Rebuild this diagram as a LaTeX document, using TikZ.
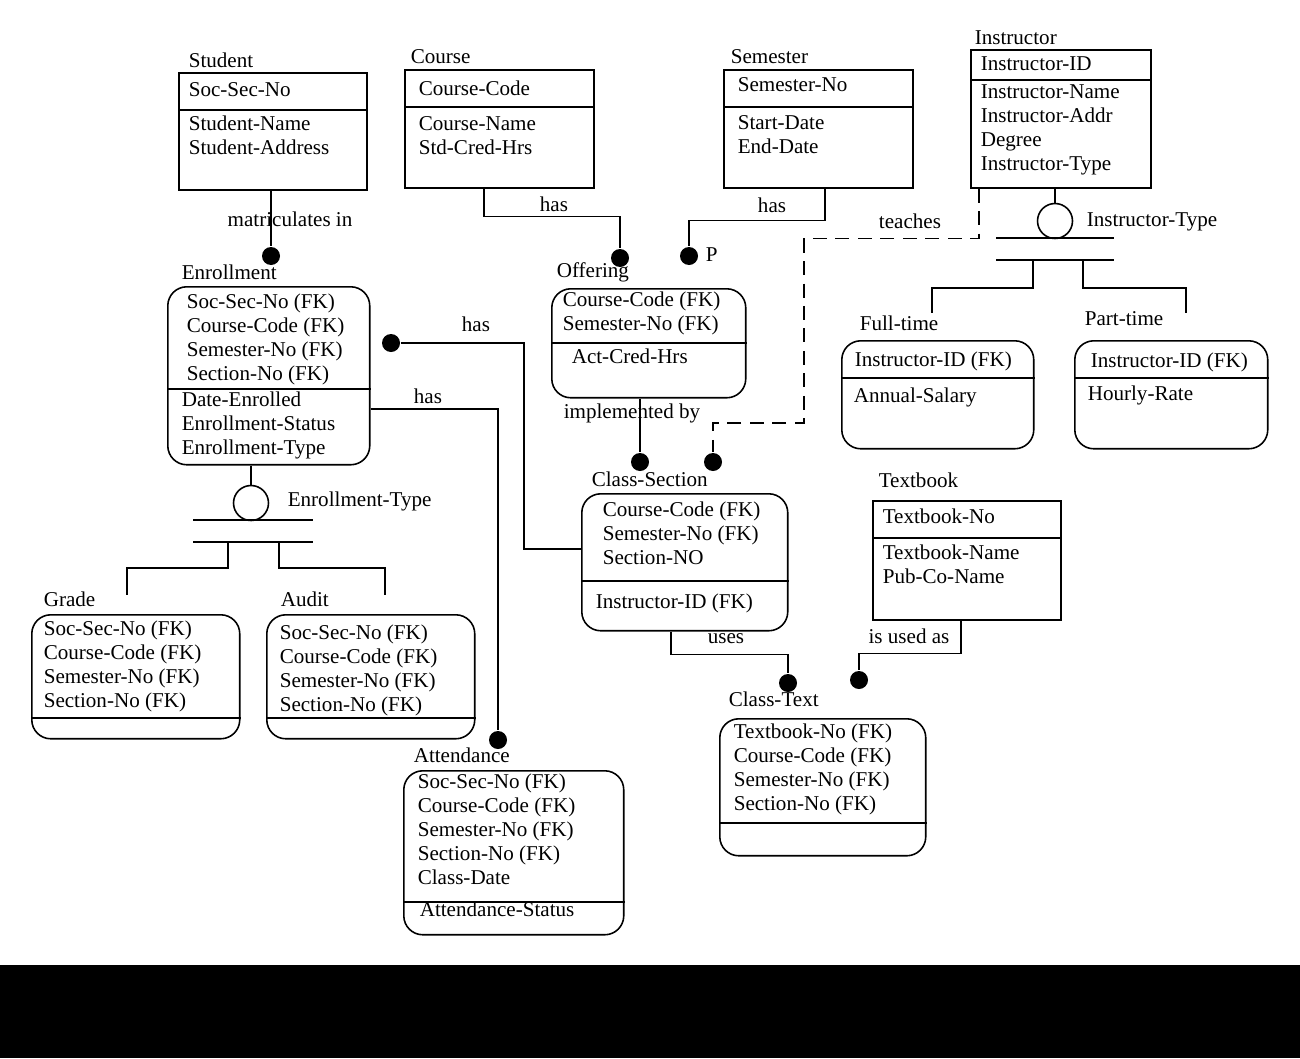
\documentclass[tikz,border=0pt]{standalone}
\usepackage{fontspec}
\setmainfont{Liberation Serif}
\usetikzlibrary{calc}

\begin{document}
\begin{tikzpicture}[
  x=0.02cm, y=-0.02cm,
  line width=0.9pt,
  ent/.style={draw, anchor=north west, inner sep=0pt},
  weak/.style={ent, rounded corners=0.38cm},
  attr/.style={anchor=north west, inner sep=0pt, align=left, font=\fontsize{12}{13.6}\selectfont},
  lbl/.style={anchor=base west, inner sep=0pt, font=\fontsize{12}{13.6}\selectfont},
  rel/.style={anchor=base, inner sep=0pt, font=\fontsize{12}{13.6}\selectfont},
  fkdot/.style={circle, fill, inner sep=0pt, minimum size=0.36cm},
  subc/.style={circle, draw, fill=white, inner sep=0pt, minimum size=0.7cm},
  dashline/.style={dash pattern=on 0.28cm off 0.17cm}
]
\useasboundingbox (0,0) rectangle (1300,1058);
\fill[black] (0,965) rectangle (1300,1058);

% entities
\node[ent, minimum width=3.76cm, minimum height=2.34cm] (stud) at (178,72) {};
\node[ent, minimum width=3.78cm, minimum height=2.36cm] (crs) at (404,69) {};
\node[ent, minimum width=3.78cm, minimum height=2.36cm] (sem) at (723,69) {};
\node[ent, minimum width=3.6cm, minimum height=2.76cm] (ins) at (970,49) {};
\node[ent, minimum width=3.76cm, minimum height=2.38cm] (txb) at (872,500) {};
\node[weak, minimum width=4.04cm, minimum height=3.56cm] (enr) at (167,286) {};
\node[weak, minimum width=3.88cm, minimum height=2.18cm] (off) at (551,288) {};
\node[weak, minimum width=3.84cm, minimum height=2.16cm] (ful) at (841,340) {};
\node[weak, minimum width=3.86cm, minimum height=2.16cm] (prt) at (1074,340) {};
\node[weak, minimum width=4.12cm, minimum height=2.74cm] (cls) at (581,493) {};
\node[weak, minimum width=4.16cm, minimum height=2.48cm] (grd) at (31,614) {};
\node[weak, minimum width=4.16cm, minimum height=2.48cm] (aud) at (266,614) {};
\node[weak, minimum width=4.4cm, minimum height=3.28cm] (att) at (403,770) {};
\node[weak, minimum width=4.12cm, minimum height=2.74cm] (ctx) at (719,718) {};

\foreach \n/\d in {stud/38, crs/38, sem/38, ins/31, txb/38, enr/103, off/55,
  ful/38, prt/38, cls/88, grd/104, aud/104, att/132, ctx/105}
  \draw ($(\n.north west)+(0,\d)$) -- ($(\n.north east)+(0,\d)$);

% entity names
\node[lbl] (stud-l) at (188,67) {Student};
\node[lbl] (crs-l) at (410,63) {Course};
\node[lbl] (sem-l) at (730,63) {Semester};
\node[lbl] (ins-l) at (974,44) {Instructor};
\node[lbl] (txb-l) at (878,487) {Textbook};
\node[lbl] (enr-l) at (181,279) {Enrollment};
\node[lbl] (off-l) at (556,277) {Offering};
\node[lbl] (ful-l) at (859,330) {Full-time};
\node[lbl] (prt-l) at (1084,325) {Part-time};
\node[lbl] (cls-l) at (591,486) {Class-Section};
\node[lbl] (grd-l) at (43,606) {Grade};
\node[lbl] (aud-l) at (280,606) {Audit};
\node[lbl] (att-l) at (413,762) {Attendance};
\node[lbl] (ctx-l) at (728,706) {Class-Text};

% attributes
\node[attr] (stud-k) at (188,82) {Soc-Sec-No};
\node[attr] (stud-a) at (188,115) {Student-Name\\Student-Address};
\node[attr] (crs-k) at (418,80) {Course-Code};
\node[attr] (crs-a) at (418,116) {Course-Name\\Std-Cred-Hrs};
\node[attr] (sem-k) at (737,77) {Semester-No};
\node[attr] (sem-a) at (737,115) {Start-Date\\End-Date};
\node[attr] (ins-k) at (980,56) {Instructor-ID};
\node[attr] (ins-a) at (980,84) {Instructor-Name\\Instructor-Addr\\Degree\\Instructor-Type};
\node[attr] (txb-k) at (882,508) {Textbook-No};
\node[attr] (txb-a) at (882,544) {Textbook-Name\\Pub-Co-Name};
\node[attr] (enr-k) at (186,293) {Soc-Sec-No (FK)\\Course-Code (FK)\\Semester-No (FK)\\Section-No (FK)};
\node[attr] (enr-a) at (181,391) {Date-Enrolled\\Enrollment-Status\\Enrollment-Type};
\node[attr] (off-k) at (562,291) {Course-Code (FK)\\Semester-No (FK)};
\node[attr] (off-a) at (571,348) {Act-Cred-Hrs};
\node[attr] (ful-k) at (854,351) {Instructor-ID (FK)};
\node[attr] (ful-a) at (853,387) {Annual-Salary};
\node[attr] (prt-k) at (1090,352) {Instructor-ID (FK)};
\node[attr] (prt-a) at (1087,385) {Hourly-Rate};
\node[attr] (cls-k) at (602,501) {Course-Code (FK)\\Semester-No (FK)\\Section-NO};
\node[attr] (cls-a) at (595,593) {Instructor-ID (FK)};
\node[attr] (grd-k) at (43,620) {Soc-Sec-No (FK)\\Course-Code (FK)\\Semester-No (FK)\\Section-No (FK)};
\node[attr] (aud-k) at (279,624) {Soc-Sec-No (FK)\\Course-Code (FK)\\Semester-No (FK)\\Section-No (FK)};
\node[attr] (att-k) at (417,773) {Soc-Sec-No (FK)\\Course-Code (FK)\\Semester-No (FK)\\Section-No (FK)\\Class-Date};
\node[attr] (att-a) at (419,901) {Attendance-Status};
\node[attr] (ctx-k) at (733,723) {Textbook-No (FK)\\Course-Code (FK)\\Semester-No (FK)\\Section-No (FK)};

% subtype circles and dots
\node[subc] (etype) at (251,503) {};
\node[subc] (itype) at (1055,221) {};
\node[fkdot] (d1) at (271,256) {};
\node[fkdot] (d2) at (620,258) {};
\node[fkdot] (d3) at (689,256) {};
\node[fkdot] (d4) at (713,462) {};
\node[fkdot] (d5) at (640,462) {};
\node[fkdot] (d6) at (391,343) {};
\node[fkdot] (d7) at (498,740) {};
\node[fkdot] (d8) at (788,683) {};
\node[fkdot] (d9) at (859,680) {};
\coordinate (tch) at (804,423);
\coordinate (hs) at (524,549);

% relationships
\draw (stud.south -| d1) -- (d1);
\draw ($(crs.south west)+(80,0)$) -- ++(0,28) -| (d2);
\draw ($(sem.south west)+(102,0)$) -- ++(0,32) -| (d3);
\draw[dashline] ($(ins.south west)+(9,0)$) -- ++(0,50) -| (tch) -| (d4);
\draw (off.south -| d5) -- (d5);
\draw (d6) -| (hs) -- (hs -| cls.west);
\draw ($(enr.north east)+(0,123)$) -| (d7);
\draw ($(cls.south west)+(90,0)$) -- ++(0,23) -| (d8);
\draw ($(txb.south west)+(89,0)$) -- ++(0,33) -| (d9);

% subtypes
\draw (enr.south -| etype) -- (etype);
\draw ($(etype)+(-58,17)$) -- ++(120,0);
\draw ($(etype)+(-58,39)$) -- ++(120,0);
\draw ($(etype)+(-23,39)$) -- ++(0,26) -| ($(grd.north west)+(96,-19)$);
\draw ($(etype)+(28,39)$) -- ++(0,26) -| ($(aud.north west)+(119,-19)$);
\draw (ins.south -| itype) -- (itype);
\draw ($(itype)+(-59,17)$) -- ++(118,0);
\draw ($(itype)+(-59,39)$) -- ++(118,0);
\draw ($(itype)+(-22,39)$) -- ++(0,28) -| ($(ful.north west)+(91,-27)$);
\draw ($(itype)+(28,39)$) -- ++(0,28) -| ($(prt.north west)+(112,-27)$);

% labels
\node[rel] (r1) at (290,226) {matriculates in};
\node[rel] (r2) at (554,211) {has};
\node[rel] (r3) at (772,212) {has};
\node[lbl] (r3p) at (705,261) {P};
\node[rel] (r4) at (910,228) {teaches};
\node[rel] (r5) at (632,418) {implemented by};
\node[rel] (r6) at (476,331) {has};
\node[rel] (r7) at (428,403) {has};
\node[rel] (r8) at (726,643) {uses};
\node[rel] (r9) at (909,643) {is used as};
\node[lbl] (et-l) at (287,506) {Enrollment-Type};
\node[lbl] (it-l) at (1086,226) {Instructor-Type};
\end{tikzpicture}
\end{document}
